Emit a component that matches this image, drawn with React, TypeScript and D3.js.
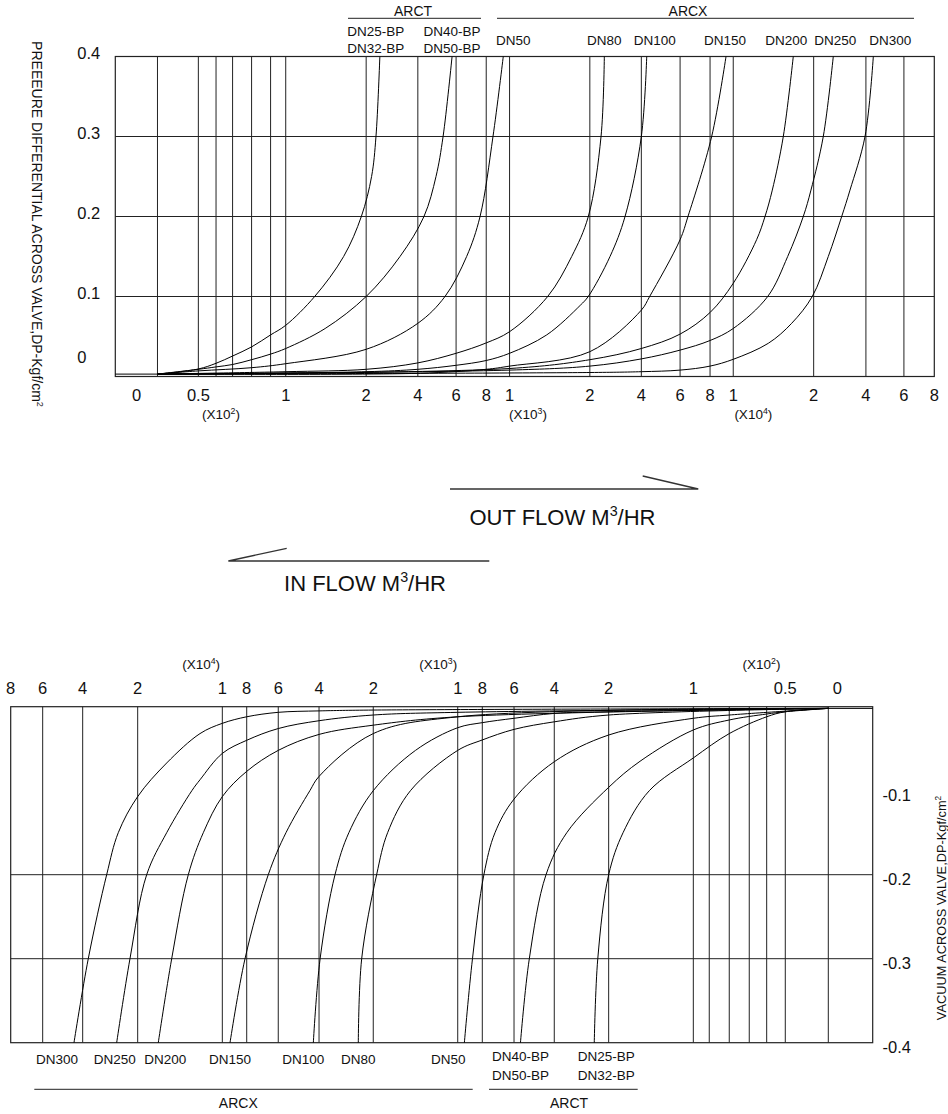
import React from 'react';
import * as d3 from 'd3';

// flow axis (m3/hr): the printed grid is a warped log scale, so it is a piecewise scale
const FLOW_AXIS = [-50, 0, 50, 60, 70, 80, 90, 100, 200, 400, 600, 800, 1000, 2000, 4000, 6000, 8000, 10000, 20000, 40000, 60000, 80000];
const AXIS_STOPS = [0, 0.0515, 0.1014, 0.123, 0.1432, 0.1664, 0.1896, 0.2081, 0.3063, 0.3694, 0.4161, 0.4529, 0.4814, 0.5794, 0.6423, 0.6896, 0.7262, 0.7545, 0.8527, 0.9165, 0.9629, 1];

const xTickValues = [0, 50, 100, 200, 400, 600, 800, 1000, 2000, 4000, 6000, 8000, 10000, 20000, 40000, 60000, 80000];
const xTickLabels = ['0', '0.5', '1', '2', '4', '6', '8', '1', '2', '4', '6', '8', '1', '2', '4', '6', '8'];
const multiplierAt = [63, 1230, 12500];
const multiplierExp = ['2', '3', '4'];

const outTicks = [0, 0.1, 0.2, 0.3, 0.4];
const outGrid = [0.1, 0.2, 0.3];
const inTicks = [-0.1, -0.2, -0.3, -0.4];
const inGrid = [-0.2, -0.3];

const seriesLabels = [['DN25-BP', 'DN32-BP'], ['DN40-BP', 'DN50-BP'], ['DN50'], ['DN80'], ['DN100'], ['DN150'], ['DN200'], ['DN250'], ['DN300']];

// out flow: [flow m3/hr, pressure differential kgf/cm2]
const dn25Out = [[0, 0.003], [50, 0.0094], [60, 0.0165], [70, 0.0256], [80, 0.037], [90, 0.052], [100, 0.064], [136, 0.1], [172, 0.15], [194, 0.2], [221, 0.25], [238, 0.3], [253, 0.4]];
const dn40Out = [[0, 0.003], [50, 0.009], [60, 0.012], [70, 0.015], [80, 0.021], [90, 0.028], [100, 0.035], [149, 0.06], [200, 0.1], [331, 0.15], [432, 0.2], [495, 0.25], [532, 0.3], [579, 0.4]];
const dn50Out = [[0, 0.003], [50, 0.007], [80, 0.011], [100, 0.016], [200, 0.034], [400, 0.0665], [542, 0.1], [670, 0.15], [759, 0.2], [858, 0.3], [946, 0.4]];
const dn80Out = [[0, 0.003], [100, 0.006], [200, 0.009], [400, 0.017], [600, 0.029], [800, 0.042], [1000, 0.056], [1475, 0.1], [1774, 0.15], [1981, 0.2], [2435, 0.3], [2563, 0.4]];
const dn100Out = [[0, 0.003], [200, 0.006], [400, 0.009], [600, 0.014], [800, 0.02], [1000, 0.029], [1463, 0.052], [1881, 0.089], [1980, 0.1], [2784, 0.15], [3367, 0.2], [4000, 0.3], [4278, 0.4]];
const dn150Out = [[0, 0.003], [400, 0.004], [800, 0.009], [1000, 0.013], [2000, 0.031], [4000, 0.083], [4428, 0.1], [6000, 0.171], [6527, 0.2], [8139, 0.3], [9377, 0.4]];
const dn200Out = [[0, 0.003], [1000, 0.01], [2000, 0.021], [4000, 0.035], [6000, 0.053], [8000, 0.08], [10000, 0.1165], [12907, 0.171], [13950, 0.2], [14857, 0.233], [16224, 0.3], [17466, 0.4]];
const dn250Out = [[0, 0.003], [1000, 0.008], [2000, 0.013], [4000, 0.022], [6000, 0.033], [8000, 0.045], [10000, 0.06], [14286, 0.1], [16770, 0.15], [18708, 0.2], [19665, 0.233], [23678, 0.3], [27510, 0.4]];
const dn300Out = [[0, 0.003], [2000, 0.005], [4000, 0.006], [6000, 0.008], [8000, 0.013], [10000, 0.0215], [14360, 0.0415], [17267, 0.0665], [19826, 0.1], [25594, 0.15], [30728, 0.2], [33908, 0.233], [39655, 0.3], [43900, 0.4]];

// in flow: [flow m3/hr, vacuum kgf/cm2]
const dn25In = [[0, -0.002], [50, -0.006], [60, -0.012], [80, -0.032], [100, -0.061], [152, -0.1], [183, -0.15], [200, -0.2], [240, -0.3], [253, -0.4]];
const dn40In = [[0, -0.002], [50, -0.006], [60, -0.0087], [80, -0.0158], [100, -0.0277], [163, -0.065], [200, -0.096], [354, -0.15], [441, -0.2], [524, -0.3], [568, -0.4]];
const dn50In = [[0, -0.002], [80, -0.0099], [100, -0.0138], [200, -0.0337], [400, -0.0655], [600, -0.11], [720, -0.15], [790, -0.2], [880, -0.3], [946, -0.4]];
const dn80In = [[0, -0.002], [200, -0.0099], [400, -0.018], [600, -0.027], [800, -0.0396], [1000, -0.052], [1560, -0.1], [1830, -0.15], [1960, -0.2], [2427, -0.3], [2552, -0.4]];
const dn100In = [[0, -0.002], [200, -0.006], [400, -0.008], [600, -0.0138], [800, -0.019], [1000, -0.025], [1500, -0.052], [2000, -0.1], [2900, -0.15], [3411, -0.2], [3960, -0.3], [4280, -0.4]];
const dn150In = [[0, -0.002], [1000, -0.012], [2000, -0.032], [4000, -0.083], [4450, -0.1], [5622, -0.15], [6633, -0.2], [8139, -0.3], [9369, -0.4]];
const dn200In = [[0, -0.002], [1000, -0.012], [2000, -0.022], [4000, -0.033], [6000, -0.052], [8000, -0.077], [10000, -0.107], [12246, -0.15], [14019, -0.2], [15981, -0.3], [17565, -0.4]];
const dn250In = [[0, -0.002], [1000, -0.0067], [2000, -0.0099], [4000, -0.0167], [6000, -0.026], [8000, -0.04], [10000, -0.0556], [12636, -0.087], [13600, -0.1], [16572, -0.15], [18936, -0.2], [22800, -0.3], [27636, -0.4]];
const dn300In = [[0, -0.002], [2000, -0.004], [4000, -0.005], [6000, -0.0067], [8000, -0.012], [10000, -0.0198], [12636, -0.032], [16572, -0.067], [20000, -0.107], [27054, -0.15], [31273, -0.2], [37964, -0.3], [44350, -0.4]];

const outSeries = [dn25Out, dn40Out, dn50Out, dn80Out, dn100Out, dn150Out, dn200Out, dn250Out, dn300Out];
const inSeries = [dn25In, dn40In, dn50In, dn80In, dn100In, dn150In, dn200In, dn250In, dn300In];

// layout
const FONT = "'Liberation Sans', Arial, Helvetica, sans-serif";
const TOP = { left: 115.3, right: 934.3, top: 56.5, bottom: 376.5 };
const BOT = { left: 10.7, right: 872.7, top: 706.7, bottom: 1042.7 };
const topLabelNudge = [-4, 0, 10, 0, 8, -1, -7, 2, 17];
const botLabelNudge = [12, 0, -16, 0, -10, 0, 7, -2, -17];

const topX = d3.scaleLinear().domain(FLOW_AXIS).range(AXIS_STOPS.map(s => TOP.left + s * (TOP.right - TOP.left)));
const topY = d3.scaleLinear().domain([0, 0.4]).range([TOP.bottom, TOP.top]);
const botX = d3.scaleLinear().domain(FLOW_AXIS).range(AXIS_STOPS.map(s => BOT.right - s * (BOT.right - BOT.left)));
const botY = d3.scaleLinear().domain([0, -0.4]).range([BOT.top, BOT.bottom]);

const line = d3.line().curve(d3.curveCatmullRom.alpha(0.5));
const curvePath = (pts, x, y) =>
    line(pts.map(([f, v]) => [x(f), y(v)]).sort((a, b) => a[0] - b[0]));

const Sup = ({ t, fs, after }) => (
    <>
        <tspan dy={-fs * 0.4} fontSize={fs * 0.65}>{t}</tspan>
        {after ? <tspan dy={fs * 0.4}>{after}</tspan> : null}
    </>
);

export default function App() {
    const gridFlows = FLOW_AXIS.slice(1, -1);
    const stroke = '#222';

    return (
        <svg width={948} height={1114} style={{ position: 'absolute', left: 0, top: 0, background: '#fff' }}
            fontFamily={FONT} fill="#111">
            {/* ---------- OUT FLOW (top) ---------- */}
            <g fill="none" stroke={stroke} strokeWidth={1}>
                {gridFlows.map(f => <line key={f} x1={topX(f)} x2={topX(f)} y1={TOP.top} y2={TOP.bottom} />)}
                {outGrid.map(v => <line key={v} x1={TOP.left} x2={TOP.right} y1={topY(v)} y2={topY(v)} />)}
                <rect x={TOP.left} y={TOP.top} width={TOP.right - TOP.left} height={TOP.bottom - TOP.top} strokeWidth={1.2} />
                <line x1={TOP.left} x2={topX(0)} y1={topY(0.003)} y2={topY(0.003)} stroke="#000" />
                {outSeries.map((s, i) => <path key={i} d={curvePath(s, topX, topY)} stroke="#000" />)}
            </g>
            {outTicks.map(v => (
                <text key={v} x={77.3} y={topY(v) - (v === 0 ? 19.5 : 3.5)} fontSize={16.5} dominantBaseline="central">{String(v)}</text>
            ))}
            {xTickValues.map((v, i) => (
                <text key={v} x={topX(v) + (v === 0 ? -21 : 0)} y={395} fontSize={16.5} textAnchor="middle" dominantBaseline="central">{xTickLabels[i]}</text>
            ))}
            {multiplierAt.map((v, i) => (
                <text key={v} x={topX(v)} y={419} fontSize={13.5} textAnchor="middle">(X10<Sup t={multiplierExp[i]} fs={13.5} after=")" /></text>
            ))}
            <text transform="translate(31.7,224) rotate(90)" fontSize={14} textAnchor="middle">
                PREEEURE DIFFERENTIAL ACROSS VALVE,DP-Kgf/cm<Sup t="2" fs={14} />
            </text>
            {/* top group headers */}
            <g stroke={stroke} strokeWidth={1}>
                <line x1={348} x2={481} y1={18.3} y2={18.3} />
                <line x1={497} x2={914} y1={18.3} y2={18.3} />
            </g>
            <text x={413} y={10.5} fontSize={14} textAnchor="middle" dominantBaseline="central">ARCT</text>
            <text x={688} y={10.5} fontSize={14} textAnchor="middle" dominantBaseline="central">ARCX</text>
            {outSeries.map((s, i) => {
                const [f] = s[s.length - 1];
                const lines = seriesLabels[i];
                const ys = lines.length === 2 ? [31.7, 48.3] : [40];
                return lines.map((t, j) => (
                    <text key={i + '-' + j} x={topX(f) + topLabelNudge[i]} y={ys[j]} fontSize={13.5} textAnchor="middle" dominantBaseline="central">{t}</text>
                ));
            })}

            {/* ---------- flow direction captions ---------- */}
            <g fill="none" stroke="#333" strokeWidth={1.3}>
                <path d="M450,489H698.3M642.7,476L698.3,489" />
                <path d="M228.3,561H489.3M228.3,561L286.7,548.3" />
            </g>
            <text x={562.5} y={524.5} fontSize={22} textAnchor="middle">OUT FLOW M<Sup t="3" fs={22} after="/HR" /></text>
            <text x={365} y={590.5} fontSize={22} textAnchor="middle">IN FLOW M<Sup t="3" fs={22} after="/HR" /></text>

            {/* ---------- IN FLOW (bottom) ---------- */}
            <g fill="none" stroke={stroke} strokeWidth={1}>
                {gridFlows.map(f => <line key={f} x1={botX(f)} x2={botX(f)} y1={BOT.top} y2={BOT.bottom} />)}
                {inGrid.map(v => <line key={v} x1={BOT.left} x2={BOT.right} y1={botY(v)} y2={botY(v)} />)}
                <rect x={BOT.left} y={BOT.top} width={BOT.right - BOT.left} height={BOT.bottom - BOT.top} strokeWidth={1.2} />
                <line x1={botX(0)} x2={BOT.right} y1={botY(-0.002)} y2={botY(-0.002)} stroke="#000" />
                {inSeries.map((s, i) => <path key={i} d={curvePath(s, botX, botY)} stroke="#000" />)}
            </g>
            {inTicks.map(v => (
                <text key={v} x={882.5} y={botY(v) + 4.5} fontSize={16.5} dominantBaseline="central">{String(v)}</text>
            ))}
            {xTickValues.map((v, i) => (
                <text key={v} x={botX(v) + (v === 0 ? 9 : 0)} y={688} fontSize={16.5} textAnchor="middle" dominantBaseline="central">{xTickLabels[i]}</text>
            ))}
            {multiplierAt.map((v, i) => (
                <text key={v} x={botX(v)} y={669} fontSize={13.5} textAnchor="middle">(X10<Sup t={multiplierExp[i]} fs={13.5} after=")" /></text>
            ))}
            <text transform="translate(946,908) rotate(-90)" fontSize={12.8} textAnchor="middle">
                VACUUM ACROSS VALVE,DP-Kgf/cm<Sup t="2" fs={12.8} />
            </text>
            <g stroke={stroke} strokeWidth={1}>
                <line x1={34.3} x2={472.7} y1={1089.3} y2={1089.3} />
                <line x1={489} x2={637.7} y1={1089.3} y2={1089.3} />
            </g>
            <text x={238.3} y={1103.3} fontSize={14} textAnchor="middle" dominantBaseline="central">ARCX</text>
            <text x={569} y={1103.3} fontSize={14} textAnchor="middle" dominantBaseline="central">ARCT</text>
            {inSeries.map((s, i) => {
                const [f] = s[s.length - 1];
                const lines = seriesLabels[i];
                const ys = lines.length === 2 ? [1056.7, 1075] : [1059.3];
                return lines.map((t, j) => (
                    <text key={i + '-' + j} x={botX(f) + botLabelNudge[i]} y={ys[j]} fontSize={13.5} textAnchor="middle" dominantBaseline="central">{t}</text>
                ));
            })}
        </svg>
    );
}
